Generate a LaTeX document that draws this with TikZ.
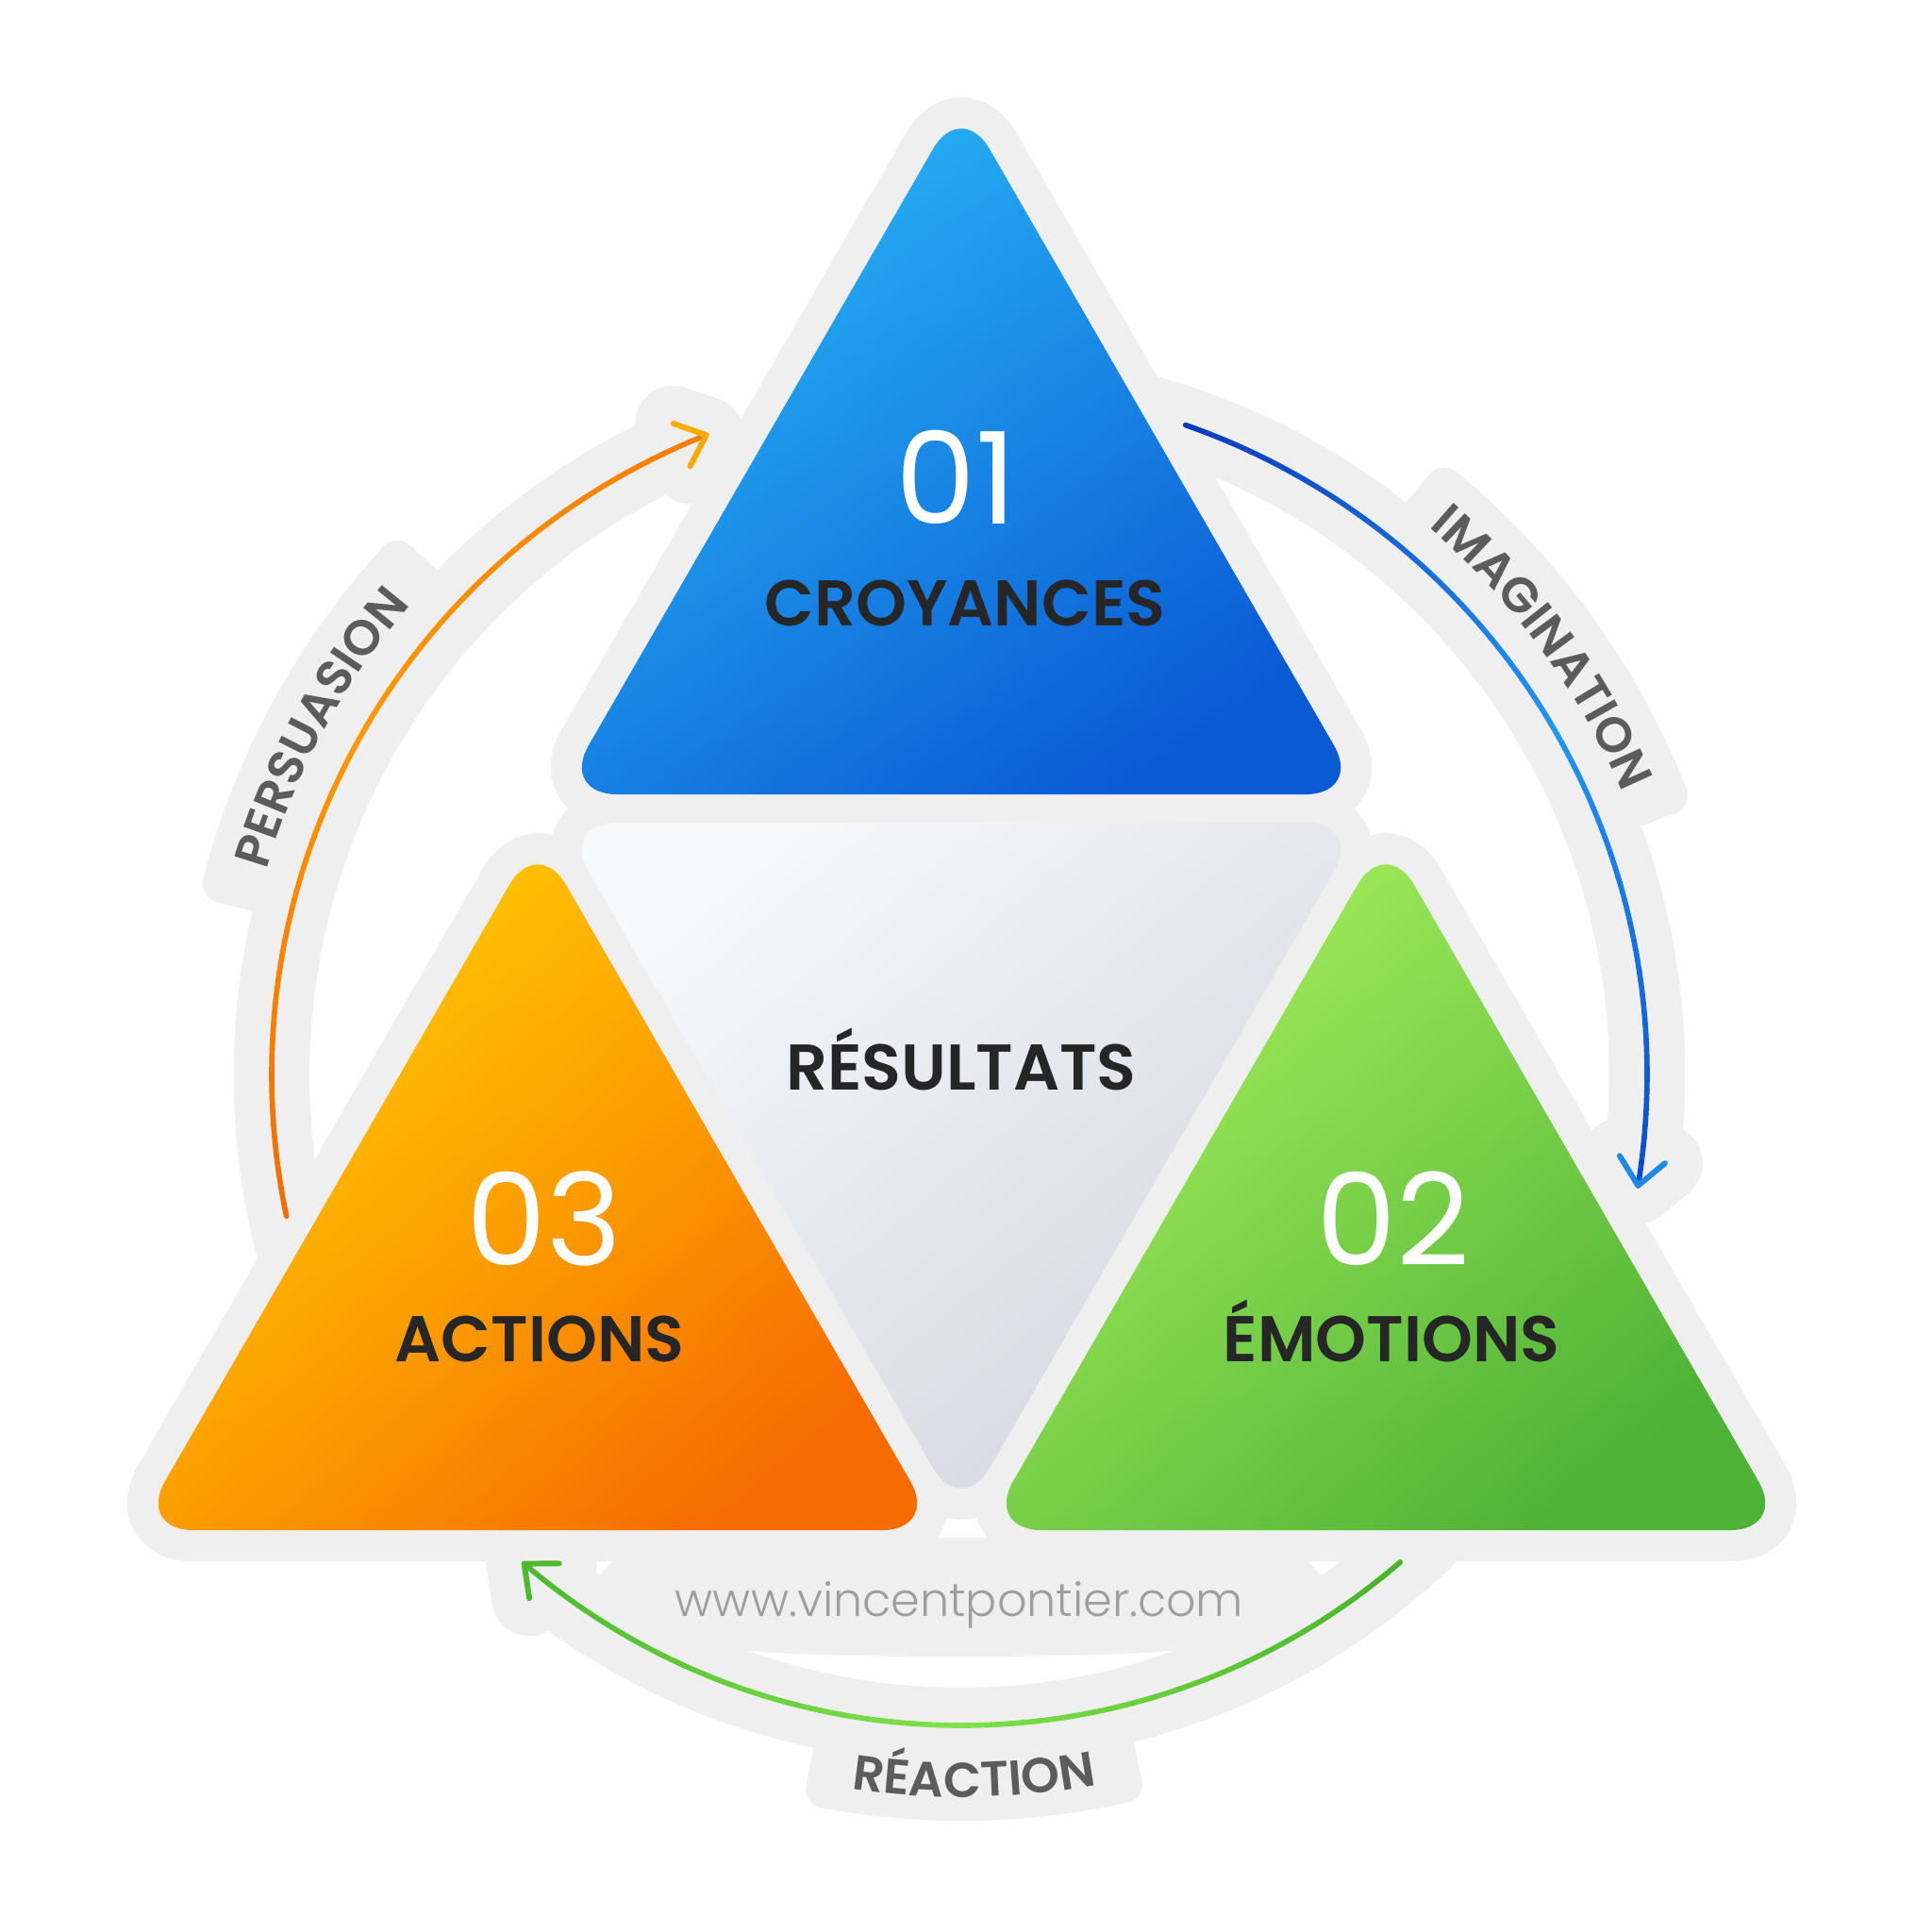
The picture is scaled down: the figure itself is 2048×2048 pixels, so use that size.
\documentclass[tikz,border=0pt]{standalone}
\usepackage{fontspec}
\setmainfont{Poppins}
\newfontfamily\numfont{Poppins Light}
\newfontfamily\semifont{Poppins SemiBold}
\usetikzlibrary{calc,decorations.text}
\definecolor{HaloGray} {RGB}{239,239,239}
\definecolor{ShadeGray}{RGB}{246,246,246}
\definecolor{BluA}{RGB}{41,182,246}
\definecolor{BluB}{RGB}{10,90,212}
\definecolor{OrgA}{RGB}{255,205,5}
\definecolor{OrgM}{RGB}{252,160,0}
\definecolor{OrgB}{RGB}{246,108,0}
\definecolor{GrnA}{RGB}{168,240,92}
\definecolor{GrnB}{RGB}{78,178,54}
\definecolor{CtrA}{RGB}{247,248,250}
\definecolor{CtrB}{RGB}{212,213,224}
\definecolor{TxtDark}{RGB}{38,38,38}
\definecolor{LblGray}{RGB}{92,92,92}
\definecolor{WebGray}{RGB}{158,158,158}
\definecolor{ArcO1}{RGB}{242,108,0}
\definecolor{ArcO2}{RGB}{255,152,0}
\definecolor{ArcO3}{RGB}{247,125,0}
\definecolor{HeadO}{RGB}{255,170,0}
\definecolor{ArcB1}{RGB}{12,60,190}
\definecolor{ArcB2}{RGB}{33,150,243}
\definecolor{ArcB3}{RGB}{10,72,200}
\definecolor{HeadB}{RGB}{30,136,229}
\definecolor{ArcG1}{RGB}{72,180,40}
\definecolor{ArcG2}{RGB}{128,225,75}
\definecolor{ArcG3}{RGB}{76,184,46}
\definecolor{HeadG}{RGB}{76,187,46}
\colorlet{hc}{HaloGray}
\tikzset{
  tri_halo/.style={draw=hc,fill=hc,line width=18.8pt,line join=round,rounded corners=17pt},
  band_halo/.style={draw=hc,line width=22.8pt,line cap=round,line join=round},
  tab_halo/.style={draw=hc,fill=hc,line width=11.4pt,line join=round},
  tri_body/.style={rounded corners=17pt},
  arc_line/.style={line width=1.6pt,line cap=round},
  head_line/.style={line width=1.7pt,line cap=round,line join=round},
  lbl_num/.style={text=white,font=\fontsize{38.5}{40}\selectfont,inner sep=0pt},
  lbl_name/.style={text=TxtDark,font=\semifont\fontsize{19.5}{22}\selectfont,inner sep=0pt},
  lbl_web/.style={text=WebGray,font=\numfont\fontsize{14}{16}\selectfont,inner sep=0pt},
}
\newcommand{\arcfont}{\semifont\fontsize{14.8}{17}\selectfont}
% open arrow head: tip, direction, style
\newcommand{\chevron}[3]{%
  \draw[#3] ($(#1)+(#2+139:37)$) -- (#1) -- ($(#1)+(#2-139:37)$);}
% arc in 40 pieces: centre, radius, from, to, colours
\newcommand{\gradarc}[7]{%
  \foreach \k in {0,...,39}{%
    \pgfmathsetmacro{\ta}{#3+(#4-#3)*\k/40}%
    \pgfmathsetmacro{\tb}{#3+(#4-#3)*(\k+1)/40}%
    \ifnum\k<20
      \pgfmathtruncatemacro{\pc}{100-5*\k}\colorlet{segcol}{#5!\pc!#6}%
    \else
      \pgfmathtruncatemacro{\pc}{200-5*\k}\colorlet{segcol}{#6!\pc!#7}%
    \fi
    \draw[arc_line,segcol] ($(#1)+(\ta:#2)$) arc[start angle=\ta,end angle=\tb,radius=#2];
  }}
% label tab: centre, from, to, inner r, outer r
\newcommand{\tab}[5]{%
  \filldraw[tab_halo] ($(#1)+(#2:#4)$) arc[start angle=#2,end angle=#3,radius=#4]
    -- ($(#1)+(#3:#5)$) arc[start angle=#3,end angle=#2,radius=#5] -- cycle;}
\newcommand{\haloshapes}{%
  \foreach \a/\b/\c in {T1/T2/T3,M1/M2/M3,O1/O2/O3,G1/G2/G3}{\filldraw[tri_halo] (\a)--(\b)--(\c)--cycle;}
  \draw[band_halo] ($(Cb)+(200:729)$) arc[start angle=200,end angle=111.6,radius=729];
  \chevron{ObE}{21.6}{band_halo}
  \draw[band_halo] ($(Cb)+(80:729)$) arc[start angle=80,end angle=-9.3,radius=729];
  \chevron{BbE}{-99.3}{band_halo}
  \draw[band_halo] ($(Cg)+(-40:712)$) arc[start angle=-40,end angle=-130.6,radius=712];
  \chevron{GbE}{139.4}{band_halo}
  \tab{Cb}{165.5}{137.5}{755}{808}
  \tab{Cb}{50.5}{21.5}{755}{808}
  \tab{Cg}{-100.5}{-77.5}{720}{793}
  \fill[hc] (672,-1630) -- (1362,-1630) -- ($(Cg)+(-55:700)$)
    arc[start angle=-55,end angle=-125,radius=700] -- cycle;
}

\begin{document}
\begin{tikzpicture}[x=0.01cm,y=0.01cm]
\fill[white] (0,0) rectangle (2048,-2048);
\useasboundingbox (0,0) rectangle (2048,-2048);
% centres of the arcs
\coordinate (Cb) at (1017,-1139);
\coordinate (Cg) at (1019,-1117);
% triangle corners
\coordinate (T1) at (1019,-106); \coordinate (T2) at (594,-842);  \coordinate (T3) at (1444,-842);
\coordinate (M1) at (594,-872);  \coordinate (M2) at (1444,-872); \coordinate (M3) at (1019,-1608);
\coordinate (O1) at (570,-886);  \coordinate (O2) at (145,-1622); \coordinate (O3) at (995,-1622);
\coordinate (G1) at (1469,-886); \coordinate (G2) at (1044,-1622);\coordinate (G3) at (1894,-1622);
% arrow tips
\coordinate (ObE) at ($(Cb)+(111.6:729)$);
\coordinate (BbE) at ($(Cb)+(-9.3:729)$);
\coordinate (GbE) at ($(Cg)+(-130.6:712)$);
% halo
\begin{scope}[shift={(0,-12)}]\colorlet{hc}{ShadeGray}\haloshapes\end{scope}
\colorlet{hc}{HaloGray}\haloshapes
% white lens under the web address
\fill[white] ($(Cg)+(-109.6:672)$) arc[start angle=-109.6,end angle=-70.4,radius=672]
  .. controls (1140,-1758) and (886,-1758) .. cycle;
% arcs
\gradarc{Cb}{729}{191.9}{111.6}{ArcO1}{ArcO2}{ArcO3}
\chevron{ObE}{21.6}{head_line,HeadO}
\gradarc{Cb}{729}{70.8}{-9.3}{ArcB1}{ArcB2}{ArcB3}
\chevron{BbE}{-99.3}{head_line,HeadB}
\gradarc{Cg}{712}{-49.2}{-130.6}{ArcG1}{ArcG2}{ArcG3}
\chevron{GbE}{139.4}{head_line,HeadG}
% arc labels
\path[decorate,decoration={text along path,text align=center,text color=LblGray,
  text={|\arcfont|PERSUASION}}] ($(Cb)+(175:766)$) arc[start angle=175,end angle=128,radius=766];
\path[decorate,decoration={text along path,text align=center,text color=LblGray,
  text={|\arcfont|IMAGINATION}}] ($(Cb)+(60:764)$) arc[start angle=60,end angle=12.4,radius=764];
\path[decorate,decoration={text along path,text align=center,text color=LblGray,
  text={|\arcfont|RÉACTION}}] ($(Cg)+(-111:788)$) arc[start angle=-111,end angle=-67,radius=788];
% triangles
\shade[tri_body,top color=BluA,bottom color=BluB,shading angle=35] (T1)--(T2)--(T3)--cycle;
\shade[tri_body,top color=CtrA,bottom color=CtrB,shading angle=40] (M1)--(M2)--(M3)--cycle;
\shade[tri_body,top color=OrgA,bottom color=OrgB,middle color=OrgM,shading angle=40] (O1)--(O2)--(O3)--cycle;
\shade[tri_body,top color=GrnA,bottom color=GrnB,shading angle=40] (G1)--(G2)--(G3)--cycle;
% texts
\node[lbl_num,anchor=base]  (n01)  at (1014,-555)  {01};
\node[lbl_name,anchor=base] (croy) at (1023,-663)  {CROYANCES};
\node[lbl_name,anchor=base] (res)  at (1019,-1155) {RÉSULTATS};
\node[lbl_num,anchor=base]  (n03)  at (577,-1341)  {03};
\node[lbl_name,anchor=base] (act)  at (572,-1443)  {ACTIONS};
\node[lbl_num,anchor=base]  (n02)  at (1477,-1341) {02};
\node[lbl_name,anchor=base] (emo)  at (1475,-1443) {ÉMOTIONS};
\node[lbl_web,anchor=base]  (web)  at (1017,-1713) {www.vincentpontier.com};
\end{tikzpicture}
\end{document}
